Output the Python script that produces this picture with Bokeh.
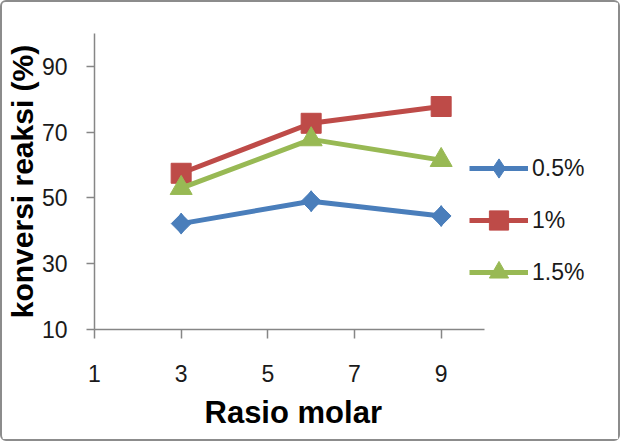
from bokeh.plotting import figure
from bokeh.models import Range1d, FixedTicker, Legend, LegendItem, Title
from bokeh.embed import file_html
from bokeh.resources import INLINE
import math

rasio = [3, 6, 9]
s05 = [42.2, 49.0, 44.5]
s1 = [57.5, 72.7, 77.8]
s15 = [53.0, 67.8, 61.5]
names = ["0.5%", "1%", "1.5%"]
x_ticks = [1, 3, 5, 7, 9]
y_ticks = [10, 30, 50, 70, 90]

px_per_x = 390 / 9.0
frame_w = 520
p = figure(width=615, height=437, output_backend="svg", toolbar_location=None,
           x_range=Range1d(1, 1 + frame_w / px_per_x), y_range=Range1d(10, 100),
           min_border_left=91, min_border_right=615 - 91 - frame_w,
           min_border_top=31, min_border_bottom=437 - 31 - 296)
p.frame_width = frame_w
p.frame_height = 296
p.grid.visible = False
p.outline_line_color = None
p.background_fill_color = "white"
p.border_fill_color = "white"
p.styles = {"border": "2px solid #8c8c8c", "border-radius": "6px"}

for ax in (p.xaxis[0], p.yaxis[0]):
    ax.axis_line_color = "#868686"
    ax.axis_line_width = 1.5
    ax.major_tick_line_color = "#868686"
    ax.major_tick_line_width = 1.5
    ax.minor_tick_line_color = None
    ax.major_tick_in = 0
    ax.major_label_text_font = "Liberation Sans"
    ax.major_label_text_font_size = "23px"
    ax.major_label_text_color = "#1a1a1a"
    ax.axis_label_text_font = "Liberation Sans"
    ax.axis_label_text_font_style = "bold"
    ax.axis_label_text_color = "black"

p.xaxis.bounds = (1, 10)
p.xaxis.ticker = FixedTicker(ticks=x_ticks)
p.yaxis.ticker = FixedTicker(ticks=y_ticks)
p.xaxis.major_tick_out = 9
p.yaxis.major_tick_out = 8
p.xaxis.major_label_standoff = 26
p.yaxis.major_label_standoff = 19
p.yaxis.axis_label = "konversi reaksi (%)"
p.yaxis.axis_label_text_font_size = "30px"
p.yaxis.axis_label_standoff = 0

xtitle = Title(text="Rasio molar", align="left", offset=110, standoff=16,
               text_font="Liberation Sans", text_font_style="bold",
               text_font_size="31px", text_color="black")
p.add_layout(xtitle, "below")

colors = ["#4A7EBB", "#BE4B48", "#98B954"]
series = [s05, s1, s15]
items = []
for i, (name, ys, c) in enumerate(zip(names, series, colors)):
    r1 = p.line(rasio, ys, line_color=c, line_width=5)
    if i == 0:
        r2 = p.scatter(rasio, ys, marker="diamond", size=21, fill_color=c, line_color=c)
        p.scatter(rasio, ys, marker="square", size=14, angle=math.pi / 4,
                  fill_color=c, line_color=c)
    elif i == 1:
        r2 = p.scatter(rasio, ys, marker="square", size=20, fill_color=c, line_color=c)
    else:
        r2 = p.scatter(rasio, ys, marker="triangle", size=22, fill_color=c, line_color=c)
    items.append(LegendItem(label=name, renderers=[r1, r2]))

legend = Legend(items=items, location=(375, 33), glyph_width=59, glyph_height=48,
                spacing=4, padding=0, margin=0, label_standoff=4,
                label_text_font="Liberation Sans", label_text_font_size="23px",
                label_text_color="#1a1a1a", border_line_color=None,
                background_fill_alpha=0)
p.add_layout(legend, "center")

open("out.html", "w").write(file_html(p, INLINE))
